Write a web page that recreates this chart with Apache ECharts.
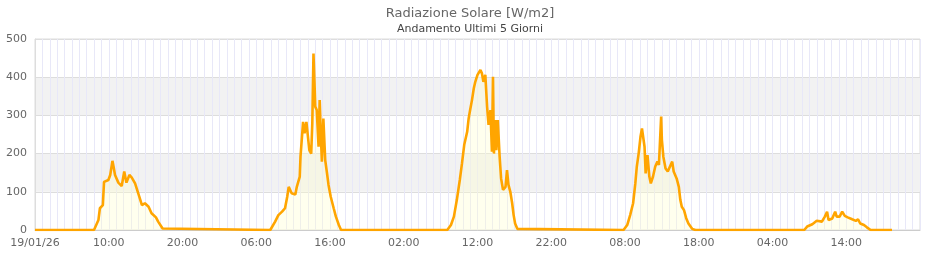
<!DOCTYPE html>
<html>
<head>
<meta charset="utf-8">
<script src="https://cdn.jsdelivr.net/npm/echarts@6/dist/echarts.min.js"></script>
<style>html,body{margin:0;padding:0;background:#fff}#c{width:940px;height:260px}</style>
</head>
<body>
<div id="c"></div>
<script>
// Hours elapsed since 19/01/26 00:00
const hours = [
  0,
  8.0,8.6,8.8,9.2,9.36,9.6,9.95,10.2,10.5,10.65,10.85,11.3,11.76,12.1,12.4,12.8,13.1,13.57,14.0,14.5,14.9,15.4,15.8,16.4,16.7,17.3,17.5,
  31.9,32.56,33.0,33.5,33.9,34.2,34.4,34.8,35.3,35.5,35.9,36.0,36.2,36.35,36.55,36.8,37.0,37.2,37.45,37.6,37.76,37.9,38.0,38.2,38.45,38.6,38.8,38.9,39.1,39.35,39.6,39.8,40.1,40.5,40.8,41.2,41.5,
  55.9,56.4,56.8,57.2,57.6,57.9,58.2,58.6,58.8,59.0,59.25,59.5,59.7,60.0,60.4,60.6,60.8,61.06,61.3,61.5,61.75,61.96,62.1,62.23,62.4,62.55,62.75,63.0,63.2,63.46,63.8,64.0,64.2,64.45,64.7,64.9,65.1,65.4,65.6,
  79.8,80.3,80.7,81.1,81.4,81.6,81.85,82.1,82.3,82.5,82.65,82.8,83.05,83.3,83.5,83.8,84.1,84.4,84.6,84.9,85.0,85.2,85.5,85.8,86.1,86.4,86.6,87.0,87.3,87.5,87.7,88.0,88.3,88.6,89.1,89.55,
  104.3,104.7,105.4,106.0,106.7,107.1,107.4,107.6,108.1,108.5,108.7,109.1,109.45,109.8,110.2,110.8,111.3,111.6,111.9,112.4,112.8,113.3,
  116.2
];
// Solar radiation W/m2
const radiation = [
  0,
  0,26,57,65,126,128,131,144,181,166,144,124,115,153,124,144,138,122,96,65,70,61,44,33,22,4,0,
  0,22,39,48,57,87,113,96,93,113,140,192,244,283,253,283,287,209,200,279,462,384,323,314,218,340,227,179,292,183,148,118,87,57,35,13,0,
  0,13,35,79,131,175,223,257,292,314,340,371,388,406,419,410,388,406,323,275,314,205,401,200,288,209,288,192,135,105,113,157,118,100,70,39,17,3,0,
  0,13,39,70,122,166,200,244,266,271,218,148,196,140,122,140,166,179,170,297,236,192,161,153,166,179,153,135,113,79,61,52,31,17,3,0,
  0,9,15,24,22,35,48,26,30,48,35,35,48,37,33,28,24,28,17,13,7,0,
  0
];
const startLabel = '19/01/26';
const yTicks = [0, 100, 200, 300, 400, 500];
const titleText = 'Radiazione Solare [W/m2]';
const subtitleText = 'Andamento Ultimi 5 Giorni';

const seriesData = hours.map((h, i) => [h, radiation[i]]);
const FONT = 'DejaVu Sans';
const chart = echarts.init(document.getElementById('c'), null, {renderer: 'canvas'});
chart.setOption({
  animation: false,
  title: {
    text: titleText,
    subtext: subtitleText,
    left: 'center',
    top: 2,
    itemGap: 4,
    textStyle: {fontFamily: FONT, fontSize: 13, fontWeight: 'normal', color: '#666'},
    subtextStyle: {fontFamily: FONT, fontSize: 11, color: '#444'}
  },
  grid: {left: 35, right: 20, top: 39, bottom: 30, show: true, borderColor: '#ddd', borderWidth: 1, backgroundColor: 'transparent'},
  xAxis: {
    type: 'value',
    min: 0, max: 120, interval: 10,
    axisLine: {show: true, lineStyle: {color: '#ccc'}},
    axisTick: {show: false},
    axisLabel: {
      fontFamily: FONT, fontSize: 11, color: '#666', margin: 8, showMaxLabel: false,
      formatter: v => v === 0 ? startLabel : String(v % 24).padStart(2, '0') + ':00'
    },
    splitLine: {show: true, lineStyle: {color: '#e8e8f8', width: 1}},
    minorTick: {show: false, splitNumber: 10},
    minorSplitLine: {show: true, lineStyle: {color: '#e8e8f8', width: 1}}
  },
  yAxis: {
    type: 'value',
    min: yTicks[0], max: yTicks[yTicks.length - 1], interval: 100,
    axisLine: {show: true, lineStyle: {color: '#ddd'}},
    axisTick: {show: false},
    axisLabel: {fontFamily: FONT, fontSize: 11, color: '#666', margin: 8},
    splitLine: {show: true, lineStyle: {color: '#ddd'}},
    splitArea: {show: true, areaStyle: {color: ['rgba(255,255,255,0)', '#f2f2f2']}}
  },
  series: [{
    type: 'line',
    data: seriesData,
    showSymbol: false,
    lineStyle: {color: '#FFA500', width: 2.6},
    itemStyle: {color: '#FFA500'},
    areaStyle: {color: 'rgba(255,255,200,0.45)'}
  }]
});
</script>
</body>
</html>
